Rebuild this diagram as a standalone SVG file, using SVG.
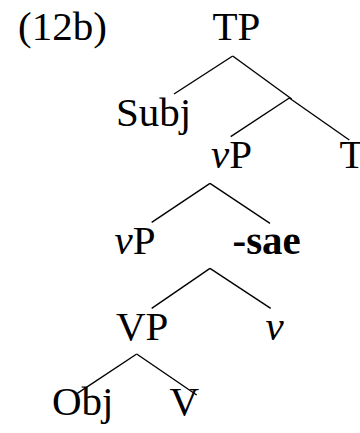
<svg xmlns="http://www.w3.org/2000/svg" width="360" height="433" viewBox="0 0 360 433">
<style>
text{font-family:"Liberation Serif","Times New Roman",serif;font-size:41px;fill:#000}
.i{font-style:italic}
.b{font-weight:bold}
.e line{stroke:#000;stroke-width:1.4;stroke-linecap:butt}
</style>
<rect width="360" height="433" fill="#fff"/>
<g id="label"><text x="18" y="40">(12b)</text></g>
<g id="TP"><text x="212.5" y="40">TP</text></g>
<g id="Subj"><text x="116" y="126">Subj</text></g>
<g id="vP1"><text x="211" y="168"><tspan class="i">v</tspan>P</text></g>
<g id="T"><text x="339.5" y="168">T</text></g>
<g id="vP2"><text x="114.5" y="253.5"><tspan class="i">v</tspan>P</text></g>
<g id="sae"><text class="b" x="232.5" y="253.5">-sae</text></g>
<g id="VP"><text x="116" y="340">VP</text></g>
<g id="v"><text class="i" x="265.5" y="340">v</text></g>
<g id="Obj"><text x="52" y="415">Obj</text></g>
<g id="V"><text x="169.5" y="415">V</text></g>
<g id="edges" class="e">
<line x1="232.7" y1="56" x2="174" y2="94"/>
<line x1="232.7" y1="56" x2="291.7" y2="99"/>
<line x1="289.3" y1="98" x2="230.7" y2="136.7"/>
<line x1="289.3" y1="98" x2="349.3" y2="140"/>
<line x1="210" y1="183.3" x2="151.7" y2="222.3"/>
<line x1="210" y1="183.3" x2="270" y2="223.3"/>
<line x1="210" y1="268.3" x2="151.7" y2="308.3"/>
<line x1="210" y1="268.3" x2="270.7" y2="308.3"/>
<line x1="136.7" y1="354" x2="77.3" y2="393.3"/>
<line x1="136.7" y1="354" x2="196.7" y2="395"/>
</g>
</svg>
